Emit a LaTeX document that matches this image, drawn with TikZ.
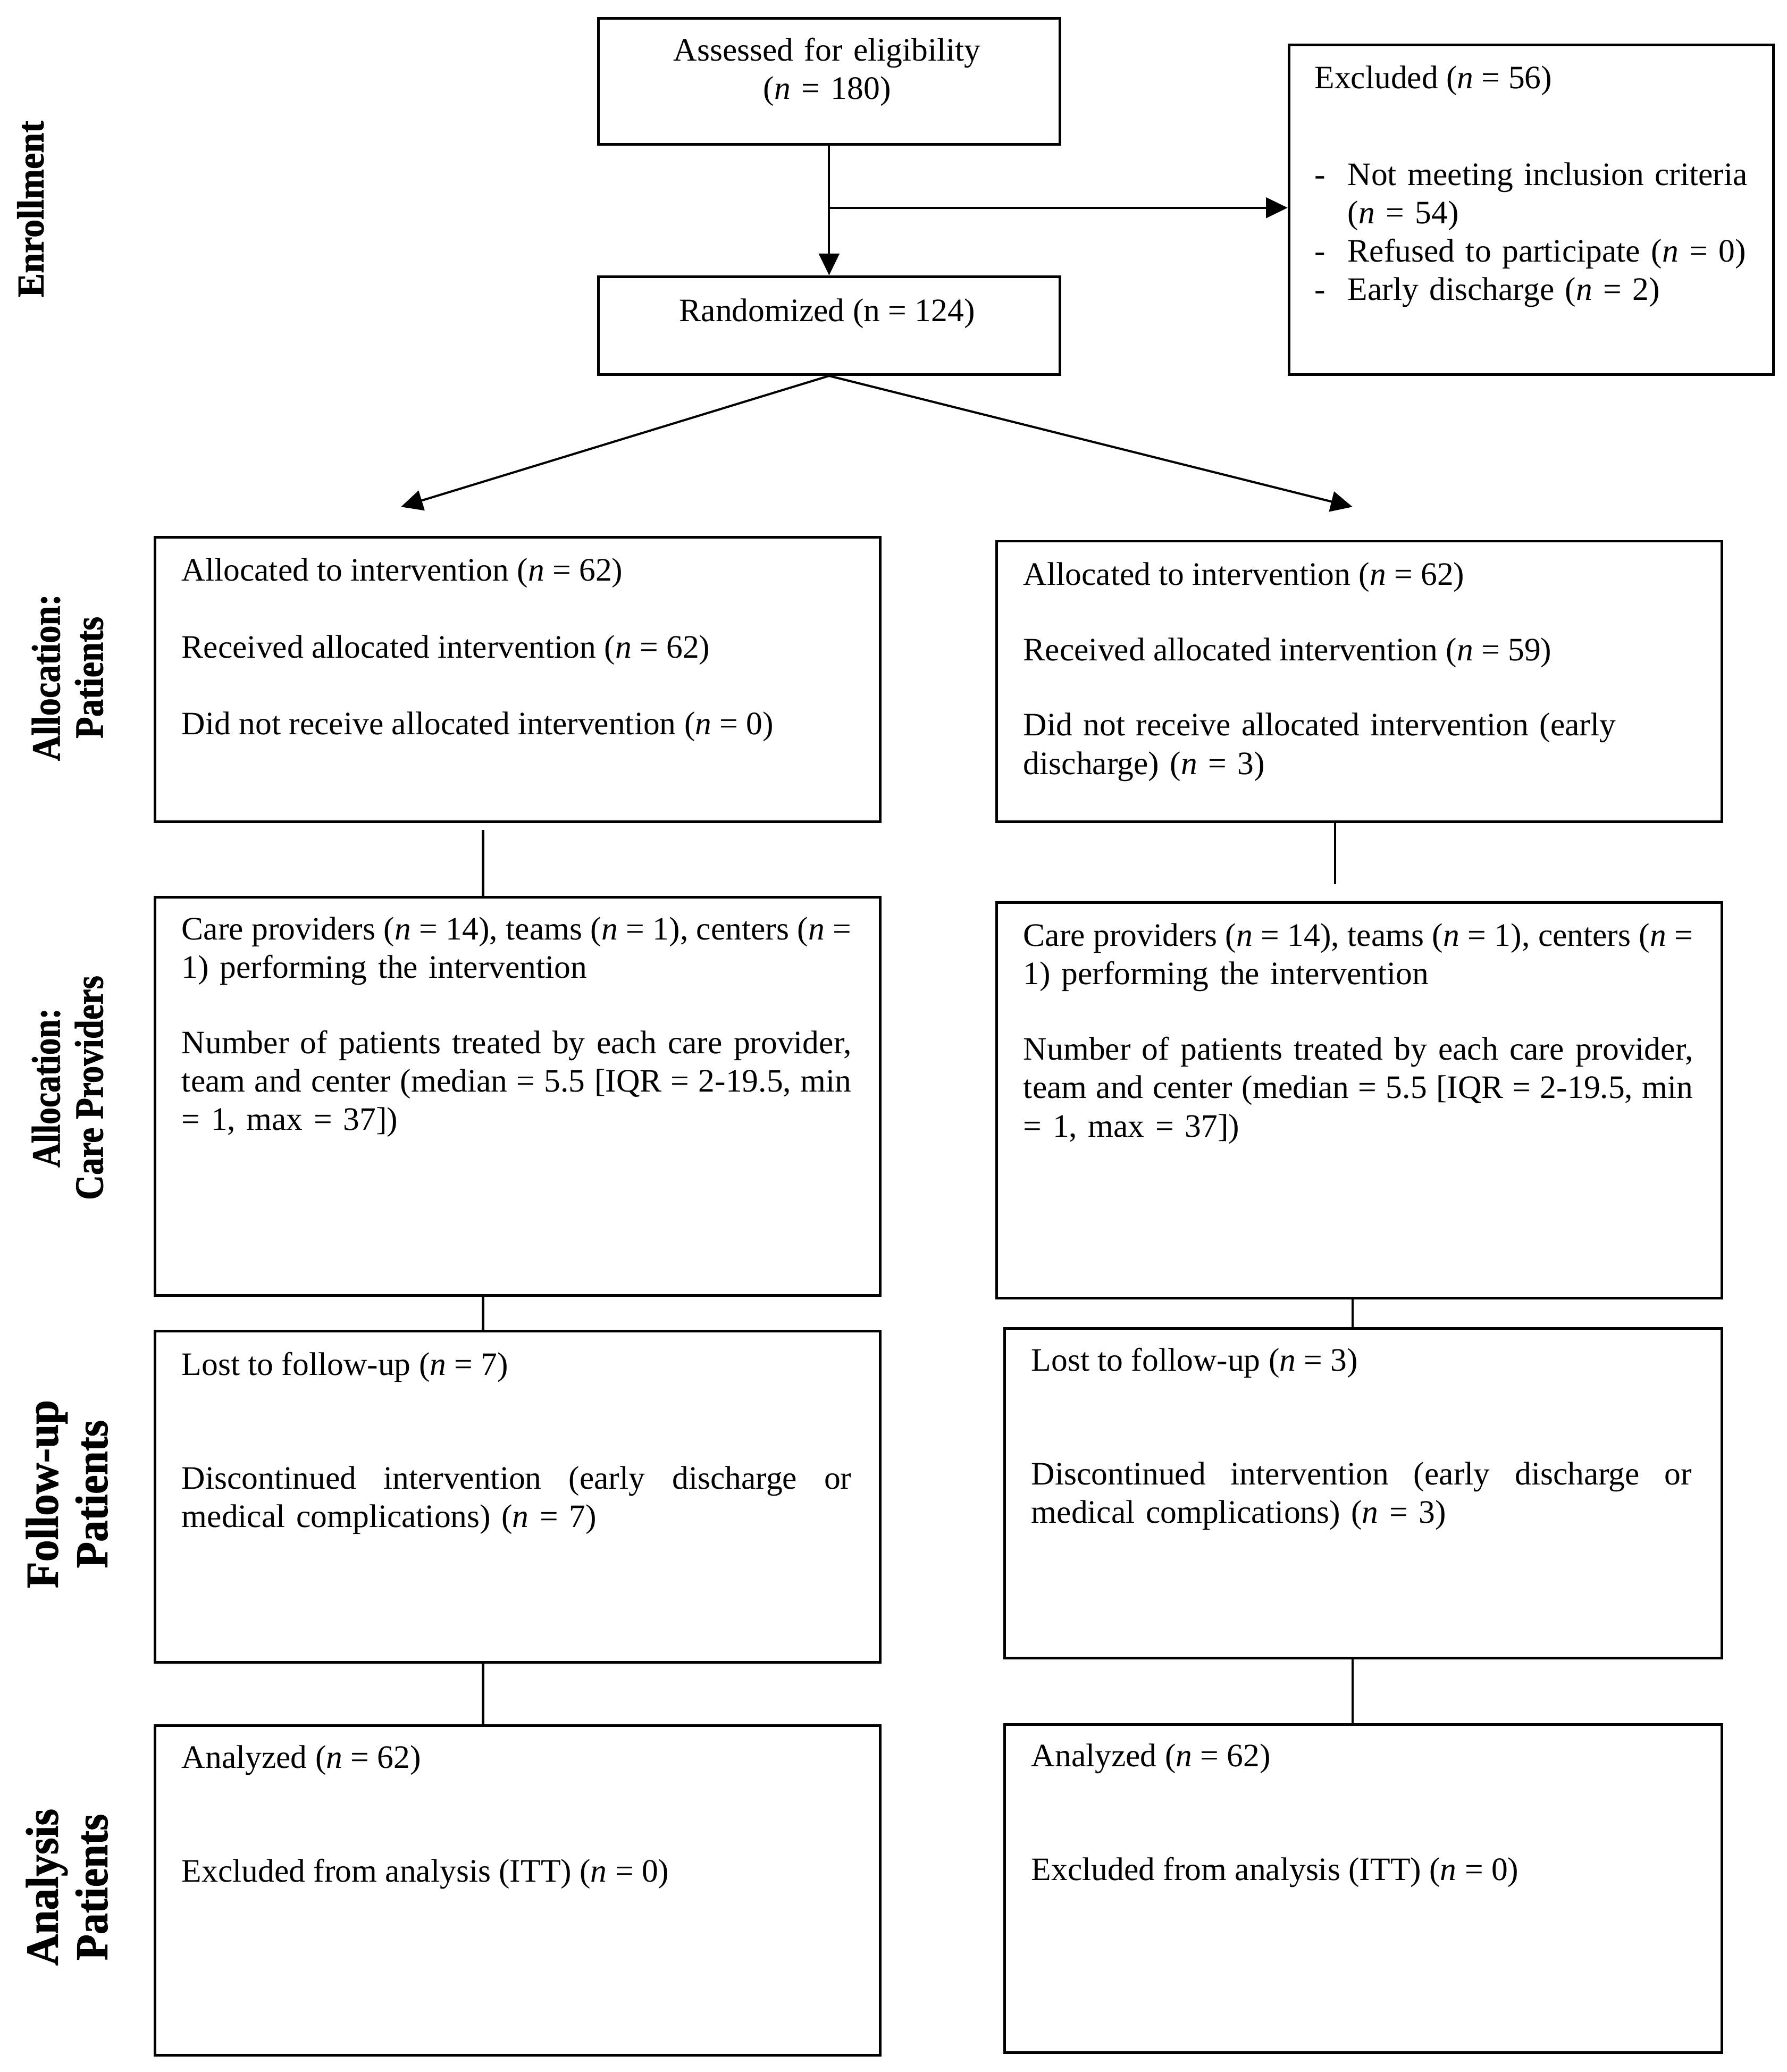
\documentclass[tikz,border=0pt]{standalone}
\usepackage{fontspec}
\usepackage{graphicx}
\setmainfont{Liberation Serif}
\newfontfamily\lblfont{Liberation Serif}[BoldFeatures={FakeBold=1.2}]
\usetikzlibrary{arrows.meta,calc}
\newcommand\nv{\textit{n}}
\newcommand\jl[2]{\makebox[#1][s]{\frenchspacing\spaceskip=0.25em plus 2em minus 0.12em\relax #2}}
\newcommand\bx[5]{\node[boxst, minimum width=#4*0.55pt, minimum height=#5*0.55pt] (#1) at (#2,#3) {};}
\begin{document}
\begin{tikzpicture}[x=0.55pt,y=-0.55pt,
  boxst/.style={draw, line width=1.1pt, inner sep=0pt, anchor=north west},
  txt/.style={inner sep=0pt, anchor=base west, align=left, font=\fontsize{13.6}{15.95}\selectfont\frenchspacing},
  lbl/.style={inner sep=0pt, rotate=90, align=center},
  lblA/.style={lbl, font=\lblfont\fontsize{16.7}{17.9}\selectfont\bfseries},
  lblB/.style={lbl, font=\lblfont\fontsize{19}{20.6}\selectfont\bfseries},
  conn/.style={line width=0.9pt},
  arr/.style={conn, -{Triangle[length=9pt,width=8.5pt]}}]
\fill[white] (0,0) rectangle (1350,1565.7);
% boxes
\bx{assess}{451}{13}{349}{95}
\bx{excl}{973}{33}{366}{249}
\bx{rand}{451}{208}{349}{74}
\bx{lalloc}{116}{405}{548}{215}
\bx{ralloc}{752}{408}{548}{212}
\bx{lcare}{116}{677}{548}{301}
\bx{rcare}{752}{681}{548}{299}
\bx{lfu}{116}{1005}{548}{250}
\bx{rfu}{758}{1003}{542}{249}
\bx{lan}{116}{1303}{548}{249}
\bx{ran}{758}{1302}{542}{248}
% texts
\node[txt, text width=300*0.55pt, align=center, anchor=base] (ta) at (625,46) {Assessed for eligibility\\(\nv{} = 180)};
\node[txt, anchor=base] (tr) at (625,243) {Randomized (n = 124)};
\node[txt] (te1) at (993,67) {Excluded (\nv{} = 56)};
\node[txt, text width=330*0.55pt] (te2) at (993,140) {\makebox[13.75pt][l]{-}Not meeting inclusion criteria\\\hspace*{13.75pt}(\nv{} = 54)\\\makebox[13.75pt][l]{-}Refused to participate (\nv{} = 0)\\\makebox[13.75pt][l]{-}Early discharge (\nv{} = 2)};
\node[txt] (la1) at (137,439) {Allocated to intervention (\nv{} = 62)};
\node[txt] (la2) at (137,497) {Received allocated intervention (\nv{} = 62)};
\node[txt] (la3) at (137,555) {Did not receive allocated intervention (\nv{} = 0)};
\node[txt] (ra1) at (773,442) {Allocated to intervention (\nv{} = 62)};
\node[txt] (ra2) at (773,499) {Received allocated intervention (\nv{} = 59)};
\node[txt, text width=278.3pt] (ra3) at (773,556) {Did not receive allocated intervention (early\\discharge) (\nv{} = 3)};
\node[txt, text width=278.3pt] (lc1) at (137,710) {\jl{278.3pt}{Care providers (\nv{} = 14), teams (\nv{} = 1), centers (\nv{} =}\\1) performing the intervention};
\node[txt, text width=278.3pt] (lc2) at (137,796) {\jl{278.3pt}{Number of patients treated by each care provider,}\\\jl{278.3pt}{team and center (median = 5.5 [IQR = 2-19.5, min}\\= 1, max = 37])};
\node[txt, text width=278.3pt] (rc1) at (773,715) {\jl{278.3pt}{Care providers (\nv{} = 14), teams (\nv{} = 1), centers (\nv{} =}\\1) performing the intervention};
\node[txt, text width=278.3pt] (rc2) at (773,801) {\jl{278.3pt}{Number of patients treated by each care provider,}\\\jl{278.3pt}{team and center (median = 5.5 [IQR = 2-19.5, min}\\= 1, max = 37])};
\node[txt] (lf1) at (137,1039) {Lost to follow-up (\nv{} = 7)};
\node[txt, text width=278.3pt] (lf2) at (137,1125) {\jl{278.3pt}{Discontinued intervention (early discharge or}\\medical complications) (\nv{} = 7)};
\node[txt] (rf1) at (779,1036) {Lost to follow-up (\nv{} = 3)};
\node[txt, text width=274.45pt] (rf2) at (779,1122) {\jl{274.45pt}{Discontinued intervention (early discharge or}\\medical complications) (\nv{} = 3)};
\node[txt] (ln1) at (137,1336) {Analyzed (\nv{} = 62)};
\node[txt] (ln2) at (137,1422) {Excluded from analysis (ITT) (\nv{} = 0)};
\node[txt] (rn1) at (779,1335) {Analyzed (\nv{} = 62)};
\node[txt] (rn2) at (779,1421) {Excluded from analysis (ITT) (\nv{} = 0)};
% side labels
\node[lbl, font=\lblfont\fontsize{15.7}{17}\selectfont\bfseries] (lenr) at (23,158) {\scalebox{0.96}[1]{Enrollment}};
\node[lblA] (lalp) at (51,512) {\scalebox{0.88}[1]{Allocation:}\\\scalebox{0.88}[1]{Patients}};
\node[lblA] (lalc) at (51,822) {\scalebox{0.84}[1]{Allocation:}\\\scalebox{0.86}[1]{Care Providers}};
\node[lblB] (lfup) at (50.5,1129) {\scalebox{0.95}[1]{Follow-up}\\\scalebox{0.94}[1]{Patients}};
\node[lblB] (lanp) at (50.5,1426) {\scalebox{0.95}[1]{Analysis}\\\scalebox{0.93}[1]{Patients}};
% connectors
\draw[arr] (assess.south) -- (rand.north);
\coordinate (br) at (625.5,157);
\draw[arr] (br) -- (br -| excl.west);
\coordinate (dl) at (303,383);
\coordinate (dr) at (1022,383);
\draw[arr] (rand.south) -- (dl);
\draw[arr] (rand.south) -- (dr);
\coordinate (v1) at (365,627);
\draw[conn] (v1) -- (v1 |- lcare.north);
\coordinate (v2a) at (1009,620);
\coordinate (v2b) at (1009,668);
\draw[conn] (v2a) -- (v2b);
\coordinate (v3) at (365,978);
\draw[conn] (v3 |- lcare.south) -- (v3 |- lfu.north);
\coordinate (v4) at (1022,980);
\draw[conn] (v4 |- rcare.south) -- (v4 |- rfu.north);
\draw[conn] (v3 |- lfu.south) -- (v3 |- lan.north);
\draw[conn] (v4 |- rfu.south) -- (v4 |- ran.north);
\end{tikzpicture}
\end{document}
